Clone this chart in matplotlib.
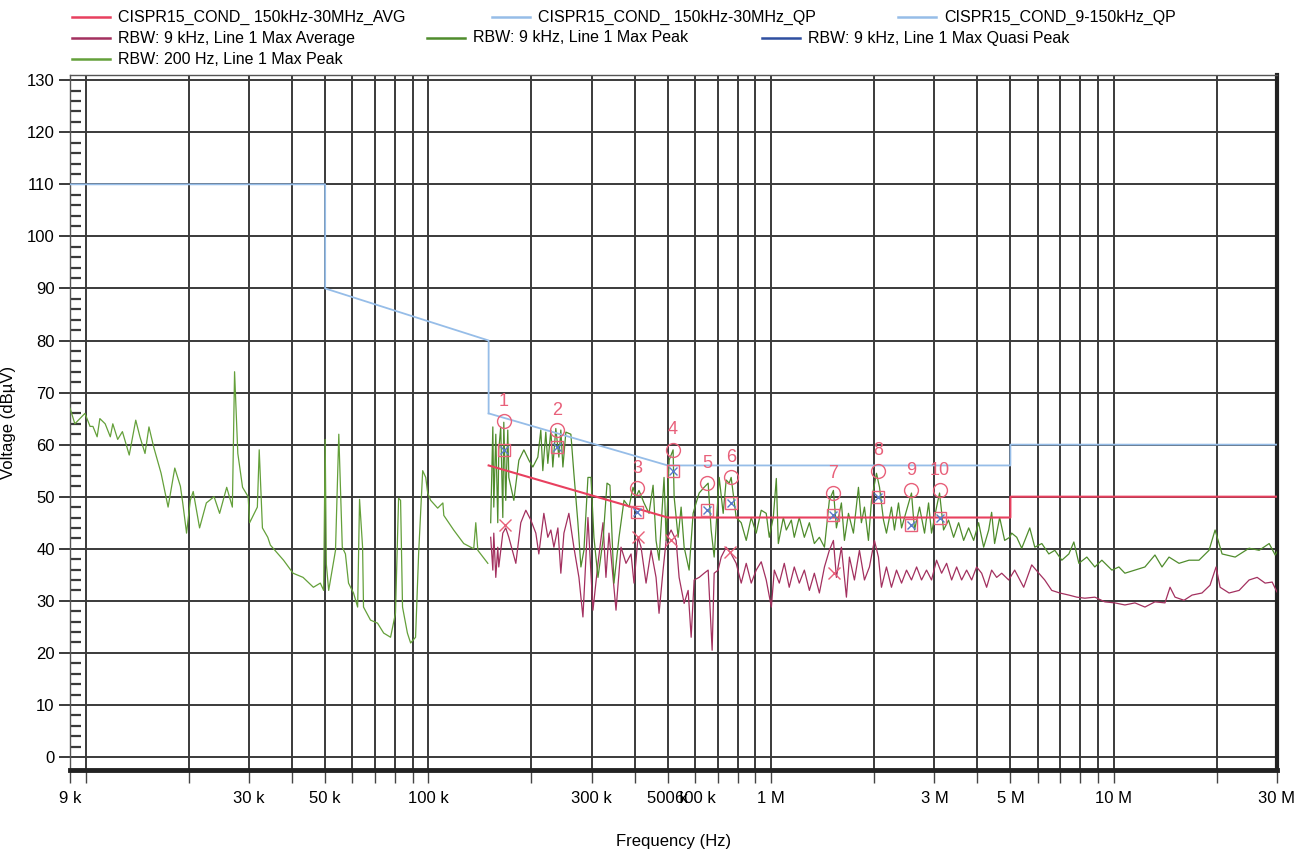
import numpy as np
import matplotlib.pyplot as plt
from matplotlib.lines import Line2D

plt.rcParams['font.family'] = ['Liberation Sans', 'DejaVu Sans']

# ---- limit lines (kHz, dBuV) ----
qp_9_150_f = [9, 50, 50, 150, 150]
qp_9_150_v = [110, 110, 90, 80, 66]
qp_150_30M_f = [150, 500, 5000, 5000, 30000]
qp_150_30M_v = [66, 56, 56, 60, 60]
avg_150_30M_f = [150, 500, 5000, 5000, 30000]
avg_150_30M_v = [56, 46, 46, 50, 50]

# ---- RBW 200 Hz peak, 9k - 150k ----
pk200_f = [9.0, 9.3, 9.95, 10.3, 10.5, 10.8, 11.0, 11.4, 11.8, 12.0, 12.4, 12.8, 13.4, 14.0,
           14.4, 14.9, 15.3, 15.8, 16.6, 17.4, 18.2, 18.9, 19.2, 19.7, 20.2, 20.6, 21.5, 22.5,
           23.7, 24.6, 25.8, 26.8, 27.2, 27.8, 28.7, 29.8, 30.1, 31.7, 32.1, 32.8, 34.0, 34.6,
           37.8, 40.3, 43.1, 46.2, 48.4, 49.5, 50.0, 50.4, 51.2, 53.6, 54.8, 56.1, 57.3, 58.5,
           60.5, 62.2, 63.0, 64.3, 64.7, 67.8, 71.1, 74.1, 77.6, 80.2, 81.9, 83.0, 84.1, 86.9,
           88.8, 91.8, 93.7, 96.3, 98.3, 99.6, 101.6, 106.5, 110.3, 111.0, 118.6, 126.9, 135.7,
           137.6, 139.5, 149.2]
pk200_v = [67, 64, 66, 63.5, 63.5, 61.5, 65, 64, 61.5, 64, 61, 62.5, 58, 64.7,
           61.5, 58.3, 63.4, 59.5, 54.5, 48, 55.5, 52, 48.8, 43, 49.3, 51, 44, 48.8,
           50, 46.8, 51.8, 48, 74, 58.3, 51.8, 50, 45, 48, 59, 44, 42.2, 40.7,
           37.8, 35.3, 34.5, 32.6, 33.4, 32, 61, 37, 32, 39.7, 62, 40.3, 39, 33.4,
           31.5, 28.8, 49.5, 40.3, 28.8, 26.3, 25.7, 23.8, 23, 27.6, 49.7, 49.3, 28.8, 23.8,
           21.9, 23, 39, 55, 53.7, 50.7, 49.3, 47.8, 48.8, 46.4, 43.6, 41, 40,
           45, 39.7, 37.2]

# ---- RBW 9 kHz peak, 150k - 30M ----
pk9_f = [152.1, 154.3, 155.3, 157.4, 159.5, 160.6, 162.7, 165.0, 166.1, 168.3, 170.6, 171.8,
         177.7, 183.8, 190.1, 196.6, 201.9, 208.8, 213.0, 215.9, 220.3, 223.3, 227.9, 230.9,
         235.6, 240.5, 243.7, 247.1, 252.1, 260.7, 266.0, 273.3, 278.9, 284.6, 292.4, 298.4,
         304.4, 312.8, 323.5, 332.4, 339.0, 348.3, 360.3, 372.6, 385.4, 395.9, 403.8, 412.1,
         426.2, 440.8, 453.0, 462.1, 471.5, 487.6, 494.6, 504.5, 518.2, 521.8, 536.0, 546.9,
         558.1, 577.1, 592.8, 605.0, 617.4, 638.5, 655.9, 669.2, 682.9, 706.3, 725.6, 740.4,
         755.6, 765.6, 791.8, 819.1, 847.2, 876.1, 906, 937, 969, 989, 1016, 1037, 1051, 1087,
         1109, 1147, 1170, 1210, 1252, 1295, 1339, 1385, 1433, 1481, 1522, 1553, 1606, 1639,
         1684, 1741, 1801, 1837, 1875, 1926, 1966, 2033, 2075, 2131, 2174, 2248, 2294, 2357,
         2406, 2488, 2572, 2625, 2715, 2808, 2885, 2943, 3044, 3106, 3191, 3300, 3414, 3531,
         3652, 3776, 3906, 4038, 4178, 4321, 4408, 4497, 4652, 4811, 4976, 5044, 5218, 5396,
         5695, 5891, 6176, 6474, 6740, 7064, 7407, 7659, 7922, 8357, 8819, 9246, 9890, 10367,
         10795, 11548, 12350, 13210, 13850, 14520, 15530, 16610, 17760, 19000, 19790, 20330,
         20740, 22650, 24870, 26610, 28460, 29640, 30000]
pk9_v = [45, 63.4, 48, 62, 45, 59, 63.4, 46, 64.3, 49.3, 62.8, 53.7,
         49.3, 57, 59, 57, 55.7, 57.6, 62.8, 55, 62.4, 56.4, 62.8, 55.7,
         63.1, 57.6, 62.8, 55.7, 62.4, 62, 54.5, 45, 36.5, 39.7, 53.7, 53.7,
         42.2, 34.5, 41.6, 52.6, 52.2, 33.4, 42.2, 49.3, 48, 51.8, 50, 51.2,
         48.8, 46.8, 52.2, 41.6, 37.8, 53.7, 41.6, 57, 59, 50, 42.2, 48,
         40.3, 35.9, 46.8, 48.8, 50.7, 51.8, 52.6, 43.6, 38.4, 53.7, 46.8, 53.2,
         52.6, 53.7, 46, 45, 41.6, 46, 43, 47.4, 46.8, 42.2, 46, 53.5, 41, 46,
         43.6, 45.5, 42.2, 46, 42.2, 45, 41, 42.2, 40.3, 49.3, 51.2, 44, 48.8, 41.6,
         46.8, 43, 51.8, 45, 48, 41.6, 49.3, 54.5, 51.8, 45.5, 43, 48, 43.6, 48.8,
         44, 47.4, 50.7, 43.6, 48, 43, 48.8, 43, 48, 50.7, 43.6, 45.5, 42.2, 45,
         41.6, 44, 41.6, 45, 40.3, 43.6, 47, 41, 46, 41.6, 42.2, 43, 42.2, 40.1,
         44, 40.3, 41, 39, 39.7, 37.8, 39, 41.3, 37.2, 38.4, 36.5, 37.8, 35.9, 36.5,
         35.3, 35.9, 36.5, 38.8, 36.5, 38.4, 37.2, 37.8, 37.8, 39.7, 43.6, 41,
         39, 38.4, 40.1, 39.7, 41, 38.8, 39.4]

# ---- RBW 9 kHz average, 150k - 30M ----
av9_f = [152.1, 154.3, 155.3, 157.4, 159.5, 160.6, 165.0, 168.3, 171.8, 180.1, 186.2, 192.6,
         199.2, 206.0, 210.2, 217.4, 223.3, 227.9, 232.6, 238.9, 243.7, 248.8, 257.2, 266.0,
         275.2, 282.7, 292.4, 302.4, 312.8, 323.5, 330.0, 336.8, 346.0, 353.1, 365.2, 377.6,
         390.6, 398.5, 409.4, 417.8, 432.1, 446.9, 462.1, 471.5, 484.5, 494.6, 511.3, 528.8,
         539.6, 558.1, 573.3, 585.1, 596.9, 617.4, 638.5, 655.9, 673.7, 682.9, 701.4, 715.9,
         740.4, 765.6, 791.8, 819.1, 847.2, 876.1, 906, 937, 969, 1003, 1023, 1058, 1094, 1131,
         1170, 1210, 1252, 1295, 1339, 1385, 1433, 1481, 1522, 1553, 1606, 1661, 1695, 1753,
         1813, 1875, 1939, 2005, 2060, 2102, 2174, 2248, 2326, 2406, 2488, 2572, 2662, 2752,
         2846, 2943, 3044, 3149, 3257, 3369, 3484, 3603, 3726, 3854, 3985, 4122, 4262, 4408,
         4559, 4717, 4943, 5146, 5468, 5771, 6052, 6298, 6602, 6970, 7407, 7817, 8246, 8819,
         9432, 10090, 10795, 11548, 12350, 13210, 14130, 14620, 15120, 16060, 16950, 18120,
         19130, 19920, 20470, 21740, 23260, 24870, 26250, 27700, 29040, 30000]
av9_v = [42.2, 35.9, 43, 34.5, 40.3, 36.5, 43, 44, 42.2, 37.2, 45, 47.4,
         45.5, 43, 39, 46.8, 42.2, 43.6, 40.3, 44, 35.3, 43, 46.8, 40.3,
         34.5, 26.9, 46, 28.2, 37.2, 45, 34.5, 43, 34.5, 28.2, 40.3, 37.2,
         39, 33.4, 42.2, 40.3, 33.4, 39.7, 34.5, 27.6, 35.9, 41.6, 43.6, 41.6,
         34.5, 29.5, 32, 23, 34, 34.5, 35.3, 35.9, 20.5, 35.3, 35.9, 38.4,
         40.3, 39, 37.2, 33.4, 37.2, 33.4, 35.9, 37.5, 34, 28.8, 35.9, 33.4, 37.2, 32.6,
         36.5, 33.4, 35.9, 32, 35.3, 31.5, 36.5, 39.7, 41.6, 34.5, 40.3, 30.7, 38.4, 34,
         39.7, 34, 36.5, 41.6, 38.4, 32.6, 36.5, 32.6, 35.9, 33.4, 35.9, 34, 36.5, 34,
         35.9, 34, 37.8, 35.3, 37.2, 34, 36.5, 34, 35.9, 34, 36.5, 35.3, 32.6, 35.9,
         34.5, 35.3, 34, 35.9, 32.6, 36.9, 35.3, 34, 32, 31.5, 31.1, 30.7, 30.5, 30.7,
         29.8, 29.6, 29.2, 29.6, 28.8, 29.8, 29.6, 32.6, 30.7, 30.1, 31.1, 31.5,
         33, 36.5, 32.6, 31.5, 32, 34, 34.5, 33.4, 33.6, 31.7]

# ---- marker table ----
mk_num = ['1', '2', '3', '4', '5', '6', '7', '8', '9', '10']
mk_f = [166, 237, 407, 518, 652, 765, 1522, 2060, 2572, 3106]
mk_peak = [64.5, 62.8, 51.6, 59, 52.6, 53.7, 50.7, 55, 51.2, 51.2]
mk_qp = [58.9, 59.5, 47, 55, 47.4, 48.7, 46.4, 50, 44.5, 45.9]
mk_avg_f = [168, 409, 511, 760, 1530]
mk_avg = [44.5, 42.2, 41.6, 39.3, 35.3]

# x tick positions (kHz) and labels
grid_f = [9, 10, 20, 30, 40, 50, 60, 70, 80, 90, 100, 200, 300, 400, 500, 600, 700, 800, 900,
          1000, 2000, 3000, 4000, 5000, 6000, 7000, 8000, 9000, 10000, 20000, 30000]
grid_lab = {9: '9 k', 30: '30 k', 50: '50 k', 100: '100 k', 300: '300 k', 500: '500 k',
            600: '600 k', 1000: '1 M', 3000: '3 M', 5000: '5 M', 10000: '10 M', 30000: '30 M'}

c_avg_lim = '#e8405f'
c_qp_lim = '#96bde8'
c_avg = '#a3305f'
c_pk = '#4f8c2c'
c_pk200 = '#64a03a'
c_qp = '#2f4fa0'
c_mk = '#e8607a'

fig = plt.figure(figsize=(13.08, 8.51), dpi=100)
ax = fig.add_axes([70 / 1308, 1 - 770 / 851, (1277 - 70) / 1308, (770 - 75) / 851])

hz = lambda lst: np.array(lst) * 1e3

ax.plot(hz(pk200_f), pk200_v, color=c_pk200, lw=0.9, zorder=3)
ax.plot(hz(av9_f), av9_v, color=c_avg, lw=0.9, zorder=3)
ax.plot(hz(pk9_f), pk9_v, color=c_pk, lw=0.9, zorder=4)
ax.plot(hz(qp_9_150_f), qp_9_150_v, color=c_qp_lim, lw=1.3, zorder=5)
ax.plot(hz(qp_150_30M_f), qp_150_30M_v, color=c_qp_lim, lw=1.3, zorder=5)
ax.plot(hz(avg_150_30M_f), avg_150_30M_v, color=c_avg_lim, lw=1.5, zorder=5)

ax.plot(hz(mk_f), mk_peak, 'o', ms=10, mfc='none', mec=c_mk, mew=1.0, zorder=6)
ax.plot(hz(mk_f), mk_qp, 's', ms=9, mfc='none', mec=c_mk, mew=1.0, zorder=6)
ax.plot(hz(mk_f), mk_qp, 'x', ms=6, color='#5a7ac8', mew=1.0, zorder=6)
ax.plot(hz(mk_avg_f), mk_avg, 'x', ms=8, color=c_mk, mew=1.0, zorder=6)
for n, f, v in zip(mk_num, mk_f, mk_peak):
    ax.text(f * 1e3, v + 2.2, n, color=c_mk, fontsize=13, ha='center', va='bottom', zorder=7)

ax.set_xscale('log')
ax.set_xlim(9e3, 30e6)
ax.set_ylim(-2.5, 131)
ax.set_xticks(hz(grid_f), [grid_lab.get(f, '') for f in grid_f])
ax.xaxis.set_minor_locator(plt.NullLocator())
ax.set_yticks(np.arange(0, 131, 10))
ax.set_yticks(np.arange(0, 131, 2), minor=True)
ax.grid(True, which='major', color='#3a3a3a', lw=1.4)
ax.set_axisbelow(True)
ax.tick_params(axis='x', which='major', direction='out', length=9, width=1.0,
               color='#444444', labelsize=12, pad=6)
ax.tick_params(axis='y', which='major', direction='out', length=8, width=1.4,
               color='#3a3a3a', labelsize=12, pad=3)
ax.tick_params(axis='y', which='minor', direction='in', length=8, width=1.6, color='#3a3a3a')

for s in ['left', 'top']:
    ax.spines[s].set_color('#555555')
    ax.spines[s].set_linewidth(1.0)
ax.spines['bottom'].set_linewidth(3.5)
ax.spines['bottom'].set_color('#222222')
ax.spines['right'].set_linewidth(3.0)
ax.spines['right'].set_color('#222222')

ax.set_xlabel('Frequency (Hz)', fontsize=12, labelpad=20)
ax.set_ylabel('Voltage (dBµV)', fontsize=12, labelpad=8)

# legend, laid out like the original flowing header
legend_items = [
    (72, 17, c_avg_lim, 'CISPR15_COND_ 150kHz-30MHz_AVG'),
    (492, 17, c_qp_lim, 'CISPR15_COND_ 150kHz-30MHz_QP'),
    (898, 17, c_qp_lim, 'CISPR15_COND_9-150kHz_QP'),
    (72, 38, c_avg, 'RBW: 9 kHz, Line 1 Max Average'),
    (427, 38, c_pk, 'RBW: 9 kHz, Line 1 Max Peak'),
    (762, 38, c_qp, 'RBW: 9 kHz, Line 1 Max Quasi Peak'),
    (72, 59, c_pk200, 'RBW: 200 Hz, Line 1 Max Peak'),
]
W, H = 1308, 851
for px, py, col, lab in legend_items:
    fig.add_artist(Line2D([px / W, (px + 38) / W], [1 - py / H, 1 - py / H], color=col, lw=1.8))
    fig.text((px + 46) / W, 1 - py / H, lab, fontsize=11.5, va='center', ha='left')

fig.savefig('out.png', dpi=100, facecolor='white')
